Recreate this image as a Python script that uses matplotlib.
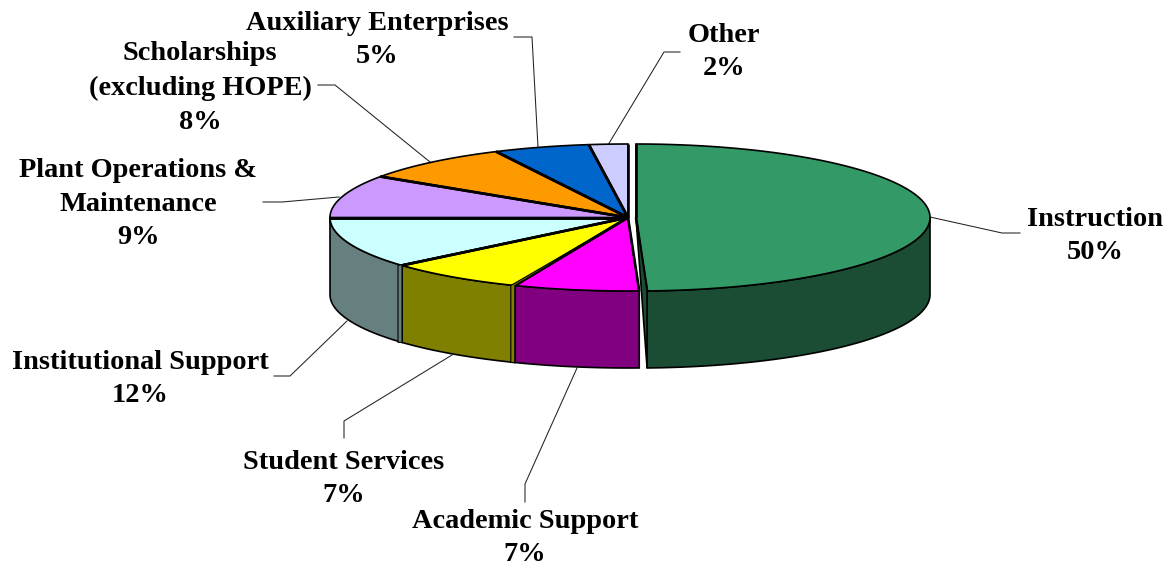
import matplotlib
matplotlib.use("Agg")
import matplotlib.pyplot as plt
import numpy as np
from matplotlib.patches import Polygon

# shares (slice angles), printed labels are the rounded ones
categories = ["Instruction", "Academic Support", "Student Services",
              "Institutional Support", "Plant Operations &\nMaintenance",
              "Scholarships\n(excluding HOPE)", "Auxiliary Enterprises", "Other"]
values = [49.4, 6.8, 7.5, 11.3, 9.4, 8.3, 5.2, 2.1]
percent_labels = ["50%", "7%", "7%", "12%", "9%", "8%", "5%", "2%"]

top_colors = ["#339966", "#FF00FF", "#FFFF00", "#CCFFFF",
              "#CC99FF", "#FF9900", "#0066CC", "#CCCCFF"]
wall_colors = ["#1A4D33", "#800080", "#808000", "#668080",
               "#664D80", "#804D00", "#003366", "#666680"]

# label centres and leader lines, in pixels
label_pos = [(1095, 236), (525, 538), (344, 479), (140, 379),
             (138, 204), (200, 88), (377, 40), (724, 52)]
leaders = [[(930, 217), (1002, 233), (1020, 233)],
           [(577, 368), (525, 484), (525, 502)],
           [(452, 355), (344, 421), (344, 438)],
           [(347, 321), (290, 376), (274, 376)],
           [(339, 197), (282, 202), (263, 202)],
           [(430, 162), (335, 85), (318, 85)],
           [(538, 147), (532, 37), (514, 37)],
           [(608, 145), (664, 52), (680, 52)]]

CX, CY = 628, 217.5
A, B = 298, 73.5
DEPTH = 77


def rim(theta, cx=CX, a=A):
    # theta in degrees, clockwise from the top of the ellipse
    t = np.radians(theta)
    return np.column_stack([cx + a * np.sin(t), CY - B * np.cos(t)])


fig = plt.figure(figsize=(11.68, 5.69), dpi=100)
ax = fig.add_axes([0, 0, 1, 1])
ax.set_xlim(0, 1168)
ax.set_ylim(569, 0)
ax.axis("off")

edges = np.cumsum([0] + values) / sum(values) * 360
for i in range(len(values)):
    start, end = edges[i], edges[i + 1]
    cx, a = (636, 294) if i == 0 else (CX, A)
    arc = rim(np.linspace(start, end, 120), cx, a)
    center = (cx, CY)

    # outer wall, only the front half shows
    lo, hi = max(start, 90), min(end, 270)
    if lo < hi:
        front = rim(np.linspace(lo, hi, 120), cx, a)
        wall = np.vstack([front, (front + [0, DEPTH])[::-1]])
        ax.add_patch(Polygon(wall, closed=True, fc=wall_colors[i], ec="black", lw=1.2, zorder=2))

    ax.add_patch(Polygon(np.vstack([center, arc]), closed=True, fc=top_colors[i],
                         ec="black", lw=1.2, zorder=3))
    for p in (arc[0], arc[-1]):
        ax.plot([cx, p[0]], [CY, p[1]], color="black", lw=1.9, zorder=4,
                solid_capstyle="butt")

# cut faces that show between the slices
p = rim(edges[1], 636, 294)[0]
ax.add_patch(Polygon([(636, CY), p, p + [0, DEPTH]], closed=True, fc=wall_colors[0],
                     ec="black", lw=1.2, zorder=5))
for i, color in ((2, wall_colors[2]), (3, wall_colors[3])):
    p = rim(edges[i])[0]
    ax.add_patch(Polygon([(CX, CY), p, p + [0, DEPTH], p + [-4, DEPTH], p + [-4, 0]],
                         closed=True, fc=color, ec="black", lw=0.8, zorder=5))

for line in leaders:
    xs, ys = zip(*line)
    ax.plot(xs, ys, color="#222222", lw=0.75, zorder=1)

for name, pct, (x, y) in zip(categories, percent_labels, label_pos):
    ax.text(x, y, name + "\n" + pct, ha="center", va="center", family="Liberation Serif",
            weight="bold", fontsize=20.4, linespacing=1.47, color="black")

fig.savefig("out.png", dpi=100, facecolor="white")
